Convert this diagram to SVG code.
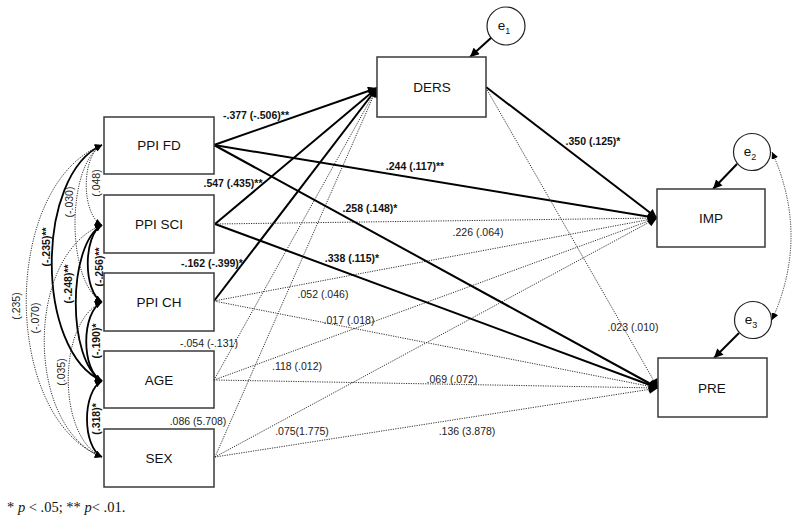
<svg xmlns="http://www.w3.org/2000/svg" width="800" height="527" viewBox="0 0 800 527">
<style>
.box{fill:#fff;stroke:#3a3a3a;stroke-width:1.5}
.nl{font-family:"Liberation Sans",Arial,sans-serif;font-size:13.5px;fill:#111;text-anchor:middle}
.lab{font-family:"Liberation Sans",Arial,sans-serif;font-size:10.5px;fill:#222;text-anchor:middle}
.b{font-weight:bold;fill:#111}
.solid{fill:none;stroke:#000;stroke-width:2}
.csolid{fill:none;stroke:#000;stroke-width:1.8}
.dot{fill:none;stroke:#333;stroke-width:1;stroke-dasharray:1.2 1.2}
.circ{fill:#fff;stroke:#222;stroke-width:1.2}
</style>
<defs>
<marker id="ah" viewBox="0 0 10 10" refX="10" refY="5" markerWidth="10" markerHeight="9" markerUnits="userSpaceOnUse" orient="auto"><path d="M0,0 L10,5 L0,10 z" fill="#000"/></marker>
<marker id="as" viewBox="0 0 10 10" refX="10" refY="5" markerWidth="7" markerHeight="7" markerUnits="userSpaceOnUse" orient="auto-start-reverse"><path d="M0,0 L10,5 L0,10 z" fill="#000"/></marker>
</defs>

<g id="connectors">
  <line class="solid" x1="214" y1="145" x2="377" y2="88" marker-end="url(#ah)"/>
  <line class="solid" x1="215" y1="224" x2="377" y2="88" marker-end="url(#ah)"/>
  <line class="solid" x1="214" y1="301" x2="377" y2="88" marker-end="url(#ah)"/>
  <line class="dot" x1="214" y1="380" x2="377" y2="88" marker-end="url(#ah)"/>
  <line class="dot" x1="215" y1="457" x2="377" y2="88" marker-end="url(#ah)"/>
  <line class="solid" x1="214" y1="145" x2="657" y2="218" marker-end="url(#ah)"/>
  <line class="dot" x1="215" y1="224" x2="657" y2="218" marker-end="url(#ah)"/>
  <line class="dot" x1="214" y1="301" x2="657" y2="218" marker-end="url(#ah)"/>
  <line class="dot" x1="214" y1="380" x2="657" y2="218" marker-end="url(#ah)"/>
  <line class="dot" x1="215" y1="457" x2="657" y2="218" marker-end="url(#ah)"/>
  <line class="solid" x1="486" y1="87" x2="657" y2="218" marker-end="url(#ah)"/>
  <line class="solid" x1="214" y1="145" x2="658" y2="388" marker-end="url(#ah)"/>
  <line class="solid" x1="215" y1="224" x2="658" y2="388" marker-end="url(#ah)"/>
  <line class="dot" x1="214" y1="301" x2="658" y2="388" marker-end="url(#ah)"/>
  <line class="dot" x1="214" y1="380" x2="658" y2="388" marker-end="url(#ah)"/>
  <line class="dot" x1="215" y1="457" x2="658" y2="388" marker-end="url(#ah)"/>
  <line class="dot" x1="486" y1="88" x2="658" y2="388" marker-end="url(#ah)"/>
  <line class="solid" x1="492" y1="37" x2="470" y2="57" marker-end="url(#ah)"/>
  <line class="solid" x1="737" y1="164" x2="713" y2="189" marker-end="url(#ah)"/>
  <line class="solid" x1="739" y1="333" x2="714" y2="358" marker-end="url(#ah)"/>
  <path class="dot" d="M772,152 Q810,236 772,320" marker-start="url(#as)" marker-end="url(#as)"/>
  <path class="dot" d="M102,145 C81,155 81,215 102,225" marker-start="url(#as)" marker-end="url(#as)"/>
  <path class="dot" d="M102,145 C66,165 66,282 102,302" marker-start="url(#as)" marker-end="url(#as)"/>
  <path class="csolid" d="M102,145 C35,175 35,351 102,381" marker-start="url(#as)" marker-end="url(#as)"/>
  <path class="dot" d="M102,145 C1,185 1,417 102,457" marker-start="url(#as)" marker-end="url(#as)"/>
  <path class="csolid" d="M102,225 C83,235 83,292 102,302" marker-start="url(#as)" marker-end="url(#as)"/>
  <path class="csolid" d="M102,225 C67,245 67,361 102,381" marker-start="url(#as)" marker-end="url(#as)"/>
  <path class="dot" d="M102,225 C25,255 25,427 102,457" marker-start="url(#as)" marker-end="url(#as)"/>
  <path class="csolid" d="M102,302 C81,312 81,371 102,381" marker-start="url(#as)" marker-end="url(#as)"/>
  <path class="dot" d="M102,302 C57,322 57,437 102,457" marker-start="url(#as)" marker-end="url(#as)"/>
  <path class="csolid" d="M102,381 C82,391 82,447 102,457" marker-start="url(#as)" marker-end="url(#as)"/>
</g>

<g id="path-labels">
  <text class="lab b" x="256" y="119">-.377 (-.506)**</text>
  <text class="lab b" x="233" y="187">.547 (.435)**</text>
  <text class="lab b" x="212" y="267">-.162 (-.399)*</text>
  <text class="lab" x="209" y="347">-.054 (-.131)</text>
  <text class="lab" x="198" y="425">.086 (5.708)</text>
  <text class="lab b" x="415" y="170">.244 (.117)**</text>
  <text class="lab b" x="370" y="212">.258 (.148)*</text>
  <text class="lab b" x="352" y="262">.338 (.115)*</text>
  <text class="lab" x="478" y="236">.226 (.064)</text>
  <text class="lab" x="323" y="298">.052 (.046)</text>
  <text class="lab" x="349" y="324">.017 (.018)</text>
  <text class="lab" x="297" y="370">.118 (.012)</text>
  <text class="lab" x="452" y="383">.069 (.072)</text>
  <text class="lab" x="302" y="435">.075(1.775)</text>
  <text class="lab" x="467" y="435">.136 (3.878)</text>
  <text class="lab b" x="593" y="145">.350 (.125)*</text>
  <text class="lab" x="633" y="331">.023 (.010)</text>
</g>

<g id="corr-labels">
  <text class="lab" transform="translate(96,183) rotate(-90)" y="4">(.048)</text>
  <text class="lab" transform="translate(69,202) rotate(-90)" y="4">(-.030)</text>
  <text class="lab b" transform="translate(46,247) rotate(-90)" y="4">(-.235)**</text>
  <text class="lab" transform="translate(16,306) rotate(-90)" y="4">(.235)</text>
  <text class="lab b" transform="translate(99,267) rotate(-90)" y="4">(-.256)**</text>
  <text class="lab b" transform="translate(68,284) rotate(-90)" y="4">(-.248)**</text>
  <text class="lab" transform="translate(35,318) rotate(-90)" y="4">(-.070)</text>
  <text class="lab b" transform="translate(96,341) rotate(-90)" y="4">(-.190)*</text>
  <text class="lab" transform="translate(61,372) rotate(-90)" y="4">(.035)</text>
  <text class="lab b" transform="translate(96,419) rotate(-90)" y="4">(.318)*</text>
</g>

<g id="ppi-fd"><rect class="box" x="104" y="117" width="110" height="57"/><text class="nl" x="159" y="150">PPI FD</text></g>
<g id="ppi-sci"><rect class="box" x="104" y="195" width="110" height="58"/><text class="nl" x="159" y="229">PPI SCI</text></g>
<g id="ppi-ch"><rect class="box" x="104" y="273" width="110" height="58"/><text class="nl" x="159" y="307">PPI CH</text></g>
<g id="age"><rect class="box" x="104" y="351" width="110" height="57"/><text class="nl" x="159" y="385">AGE</text></g>
<g id="sex"><rect class="box" x="104" y="429" width="110" height="58"/><text class="nl" x="159" y="463">SEX</text></g>
<g id="ders"><rect class="box" x="377" y="57" width="109" height="60"/><text class="nl" x="432" y="92">DERS</text></g>
<g id="imp"><rect class="box" x="657" y="189" width="108" height="58"/><text class="nl" x="711" y="223">IMP</text></g>
<g id="pre"><rect class="box" x="658" y="358" width="109" height="59"/><text class="nl" x="712" y="393">PRE</text></g>
<g id="e1"><circle class="circ" cx="506" cy="26" r="19"/><text class="nl" x="504" y="30">e<tspan font-size="9" dy="4">1</tspan></text></g>
<g id="e2"><circle class="circ" cx="752" cy="152" r="18.5"/><text class="nl" x="750" y="156">e<tspan font-size="9" dy="4">2</tspan></text></g>
<g id="e3"><circle class="circ" cx="753" cy="320" r="18.5"/><text class="nl" x="751" y="324">e<tspan font-size="9" dy="4">3</tspan></text></g>

<text x="7" y="512" font-family="'Liberation Serif','Times New Roman',serif" font-size="14.5" fill="#111">* <tspan font-style="italic">p</tspan> &lt; .05; ** <tspan font-style="italic">p</tspan>&lt; .01.</text>
</svg>
